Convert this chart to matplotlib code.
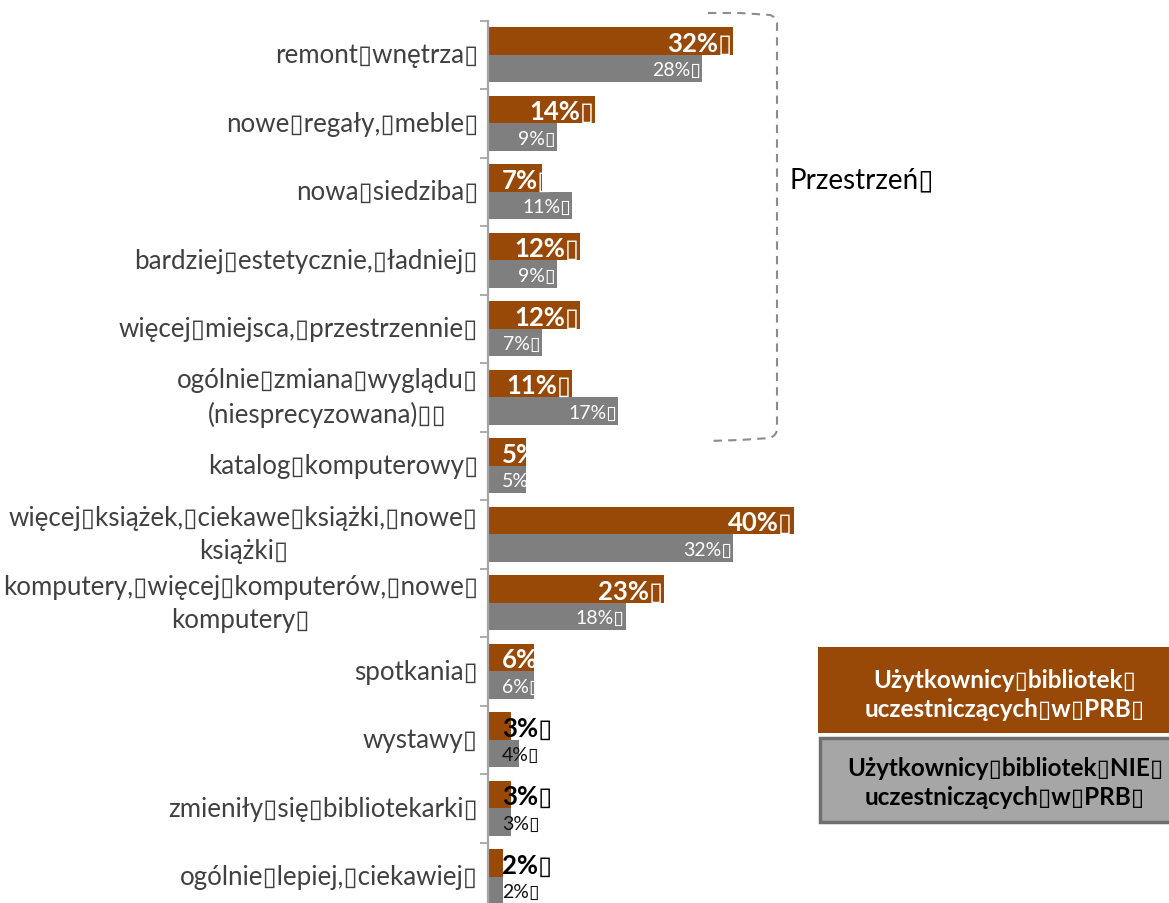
import matplotlib
matplotlib.use('Agg')
import matplotlib.pyplot as plt
import matplotlib.transforms as mtrans
from matplotlib.patches import Rectangle, PathPatch
from matplotlib.path import Path

BX = '\u25af'  # placeholder glyph between words

categories = [
    f'remont{BX}wnętrza{BX}',
    f'nowe{BX}regały,{BX}meble{BX}',
    f'nowa{BX}siedziba{BX}',
    f'bardziej{BX}estetycznie,{BX}ładniej{BX}',
    f'więcej{BX}miejsca,{BX}przestrzennie{BX}',
    f'ogólnie{BX}zmiana{BX}wyglądu{BX}\n(niesprecyzowana){BX}{BX}',
    f'katalog{BX}komputerowy{BX}',
    f'więcej{BX}książek,{BX}ciekawe{BX}książki,{BX}nowe{BX}\nksiążki{BX}',
    f'komputery,{BX}więcej{BX}komputerów,{BX}nowe{BX}\nkomputery{BX}',
    f'spotkania{BX}',
    f'wystawy{BX}',
    f'zmieniły{BX}się{BX}bibliotekarki{BX}',
    f'ogólnie{BX}lepiej,{BX}ciekawiej{BX}',
]
prb_users = [32, 14, 7, 12, 12, 11, 5, 40, 23, 6, 3, 3, 2]
non_prb_users = [28, 9, 11, 9, 7, 17, 5, 32, 18, 6, 4, 3, 2]

legend_prb = f'Użytkownicy{BX}bibliotek{BX}\nuczestniczących{BX}w{BX}PRB{BX}'
legend_non = f'Użytkownicy{BX}bibliotek{BX}NIE{BX}\nuczestniczących{BX}w{BX}PRB{BX}'
group_title = f'Przestrzeń{BX}'

ORANGE = '#984807'
GREY = '#7f7f7f'
FONT = ['Lato', 'DejaVu Sans']

W, H = 1169, 904
fig = plt.figure(figsize=(W / 100, H / 100), dpi=100)

# main bar axes (extends slightly past the bottom edge)
ax_left, ax_right = 488, 488 + 337
ax_top, ax_bot = 21.5, 912
ax = fig.add_axes([ax_left / W, 1 - ax_bot / H, (ax_right - ax_left) / W, (ax_bot - ax_top) / H])
ax.set_xlim(0, 44)
n = len(categories)
ax.set_ylim(n - 0.5, -0.5)

ypos = list(range(n))
bh = 0.405
off = 0.2
ax.barh([y - off for y in ypos], prb_users, height=bh, color=ORANGE, zorder=2)
ax.barh([y + off for y in ypos], non_prb_users, height=bh, color=GREY, zorder=2)

for s in ['top', 'right', 'bottom']:
    ax.spines[s].set_visible(False)
ax.spines['left'].set_color('#a6a6a6')
ax.spines['left'].set_linewidth(1.6)
ax.set_xticks([])
ax.set_yticks([k - 0.5 for k in range(n + 1)])
ax.set_yticklabels([])
ax.tick_params(axis='y', direction='out', length=6, width=1.3, color='#a6a6a6')

# category labels
lab_tr = mtrans.offset_copy(ax.get_yaxis_transform(), fig=fig, x=-10, y=0, units='dots')
for y, c in zip(ypos, categories):
    ax.text(0, y, c, transform=lab_tr, ha='right', va='center', multialignment='center',
            fontsize=18.6, color='#404040', family=FONT, linespacing=1.4)

# value labels
end_tr = mtrans.offset_copy(ax.transData, fig=fig, x=-1, y=-1.5, units='dots')
start_tr = mtrans.offset_copy(ax.transData, fig=fig, x=14, y=-1.5, units='dots')
labels = []
for y, v in zip(ypos, prb_users):
    t = ax.text(v, y - off, f'{v}%{BX}', transform=end_tr, ha='right', va='center',
                fontsize=18.5, fontweight='bold', color='white' if v >= 5 else 'black',
                family=FONT, zorder=3)
    labels.append((t, v, y - off))
for y, v in zip(ypos, non_prb_users):
    t = ax.text(v, y + off, f'{v}%{BX}', transform=end_tr, ha='right', va='center',
                fontsize=14, color='white' if v >= 5 else '#111111',
                family=FONT, zorder=3)
    labels.append((t, v, y + off))

fig.canvas.draw()
r = fig.canvas.get_renderer()
min_x = ax.transData.transform((0, 0))[0] + 14
for t, v, yy in labels:
    bb = t.get_window_extent(r)
    if bb.x0 < min_x:
        t.set_transform(start_tr)
        t.set_position((0, yy))
        t.set_ha('left')

# overlay in pixel coordinates for bracket and legend boxes
ov = fig.add_axes([0, 0, 1, 1], facecolor='none')
ov.set_xlim(0, W)
ov.set_ylim(H, 0)
ov.axis('off')

verts = [(708, 14), (740, 14), (770, 16), (776, 18), (777, 24),
         (777, 430), (777, 436), (770, 439), (740, 441), (708, 442)]
codes = [Path.MOVETO, Path.LINETO, Path.LINETO, Path.CURVE3, Path.CURVE3,
         Path.LINETO, Path.CURVE3, Path.CURVE3, Path.LINETO, Path.LINETO]
ov.add_patch(PathPatch(Path(verts, codes), fill=False, edgecolor='#8c8c8c', lw=1.5,
                       linestyle=(0, (4, 3))))
ov.text(790, 180, group_title, ha='left', va='center', fontsize=20, color='black', family=FONT)

ov.add_patch(Rectangle((818, 648), 380, 86, facecolor=ORANGE, edgecolor='none'))
ov.text(1005, 695, legend_prb, ha='center', va='center', multialignment='center',
        fontsize=17.5, fontweight='bold', color='white', family=FONT, linespacing=1.35)
ov.add_patch(Rectangle((819.5, 738.5), 380, 84, facecolor='#a6a6a6', edgecolor='#6f6f6f', lw=2.5))
ov.text(1005, 783, legend_non, ha='center', va='center', multialignment='center',
        fontsize=17.5, fontweight='bold', color='black', family=FONT, linespacing=1.35)

fig.savefig('out.png', dpi=100, facecolor='white')
